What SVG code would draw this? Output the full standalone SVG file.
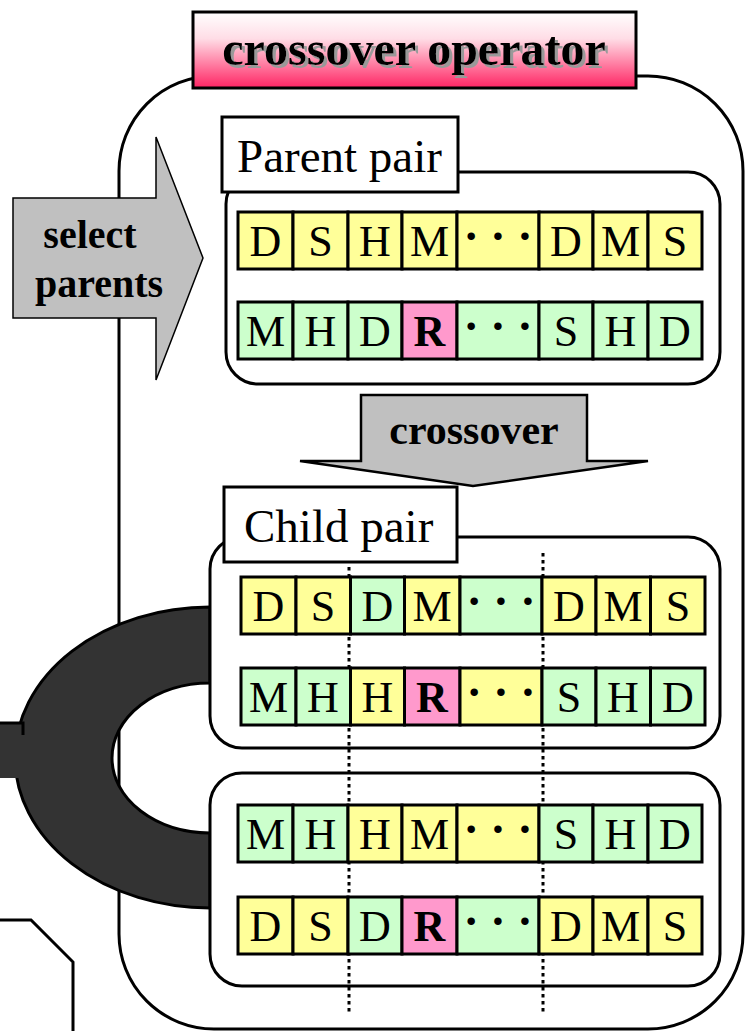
<svg xmlns="http://www.w3.org/2000/svg" width="750" height="1031" viewBox="0 0 750 1031">
<style>
.y{fill:#ffff99;stroke:#000;stroke-width:3}
.g{fill:#ccffcc;stroke:#000;stroke-width:3}
.p{fill:#ff99cc;stroke:#000;stroke-width:3}
.c{font-family:"Liberation Serif","Times New Roman",serif;font-size:44px;text-anchor:middle;fill:#000}
.b{font-weight:bold}
.d{font-family:"Liberation Serif","Times New Roman",serif;font-size:46px;font-weight:bold;text-anchor:middle;fill:#000}
.grp{fill:#fff;stroke:#000;stroke-width:3}
.lbl{fill:#fff;stroke:#000;stroke-width:3}
.lt{font-family:"Liberation Serif","Times New Roman",serif;font-size:47px;fill:#000}
.bt{font-family:"Liberation Serif","Times New Roman",serif;font-size:40px;font-weight:bold;text-anchor:middle;fill:#000}
.dot{fill:none;stroke:#000;stroke-width:3;stroke-dasharray:3.5 3.5}
</style>
<defs>
<linearGradient id="pk" x1="0" y1="0" x2="0" y2="1">
<stop offset="0" stop-color="#ffffff"/>
<stop offset="0.35" stop-color="#ffdde6"/>
<stop offset="1" stop-color="#ff2463"/>
</linearGradient>
<filter id="sh" x="-5%" y="-20%" width="110%" height="140%">
<feOffset in="SourceAlpha" dx="3" dy="3" result="o"/>
<feFlood flood-color="#999999"/>
<feComposite in2="o" operator="in" result="s"/>
<feMerge><feMergeNode in="s"/><feMergeNode in="SourceGraphic"/></feMerge>
</filter>
</defs>

<g id="outer">
<rect x="119" y="76" width="624" height="953" rx="95" ry="95" fill="#fff" stroke="#000" stroke-width="3"/>
</g>

<g id="title">
<rect x="193" y="12" width="443" height="76" fill="url(#pk)" stroke="#000" stroke-width="3"/>
<text x="414" y="65" class="bt" style="font-size:48px" filter="url(#sh)">crossover operator</text>
</g>

<g id="select-parents">
<polygon points="13,198 156,198 156,137 203,258 156,380 156,318 13,318" fill="#c0c0c0" stroke="#000" stroke-width="1.5"/>
<text x="90" y="248" class="bt">select</text>
<text x="99" y="297" class="bt">parents</text>
</g>

<g id="parent-pair">
<rect class="grp" x="226" y="172" width="494" height="212" rx="32" ry="32"/>
<rect class="lbl" x="222" y="117" width="236" height="75"/>
<text x="237" y="172" class="lt">Parent pair</text>
<g id="parent1">
<rect class="y" x="238" y="212" width="55" height="57"/>
<rect class="y" x="293" y="212" width="55" height="57"/>
<rect class="y" x="348" y="212" width="54" height="57"/>
<rect class="y" x="402" y="212" width="55" height="57"/>
<rect class="y" x="457" y="212" width="82" height="57"/>
<rect class="y" x="539" y="212" width="54" height="57"/>
<rect class="y" x="593" y="212" width="55" height="57"/>
<rect class="y" x="648" y="212" width="54" height="57"/>
<text class="c" x="265.5" y="256">D</text>
<text class="c" x="320.5" y="256">S</text>
<text class="c" x="375" y="256">H</text>
<text class="c" x="429.5" y="256">M</text>
<text class="d" x="498" y="252">· · ·</text>
<text class="c" x="566" y="256">D</text>
<text class="c" x="620.5" y="256">M</text>
<text class="c" x="675" y="256">S</text>
</g>
<g id="parent2">
<rect class="g" x="238" y="302" width="55" height="57"/>
<rect class="g" x="293" y="302" width="55" height="57"/>
<rect class="g" x="348" y="302" width="54" height="57"/>
<rect class="p" x="402" y="302" width="55" height="57"/>
<rect class="g" x="457" y="302" width="82" height="57"/>
<rect class="g" x="539" y="302" width="54" height="57"/>
<rect class="g" x="593" y="302" width="55" height="57"/>
<rect class="g" x="648" y="302" width="54" height="57"/>
<text class="c" x="265.5" y="346">M</text>
<text class="c" x="320.5" y="346">H</text>
<text class="c" x="375" y="346">D</text>
<text class="c b" x="429.5" y="346">R</text>
<text class="d" x="498" y="342">· · ·</text>
<text class="c" x="566" y="346">S</text>
<text class="c" x="620.5" y="346">H</text>
<text class="c" x="675" y="346">D</text>
</g>
</g>

<g id="crossover-arrow">
<polygon points="361,395 587,395 587,461 648,461 473,486 300,461 361,461" fill="#c0c0c0" stroke="#000" stroke-width="2.5" stroke-linejoin="miter"/>
<text x="474" y="444" class="bt" style="font-size:42px">crossover</text>
</g>

<g id="connectors">
<path d="M210,607 A195,150.5 0 0 0 210,908 L210,833 A98,75 0 0 1 210,683 Z" fill="#333" stroke="#000" stroke-width="3"/>
<rect x="0" y="723" width="23" height="55" fill="#333"/>
<path d="M0,723 H23 V735" fill="none" stroke="#000" stroke-width="3"/>
</g>

<g id="child-pair-frame">
<rect class="grp" x="210" y="537" width="510" height="211" rx="32" ry="32"/>
<rect class="lbl" x="224" y="487" width="233" height="75"/>
<text x="244" y="542" class="lt">Child pair</text>
</g>

<g id="child-pair-2-frame">
<rect class="grp" x="210" y="773" width="510" height="213" rx="32" ry="32"/>
</g>

<g id="cut-lines">
<line class="dot" x1="349" y1="567" x2="349" y2="1012"/>
<line class="dot" x1="543" y1="553" x2="543" y2="1012"/>
</g>

<g id="child-pair">
<g id="child1">
<rect class="y" x="241" y="577" width="55" height="57"/>
<rect class="y" x="296" y="577" width="54.5" height="57"/>
<rect class="g" x="350.5" y="577" width="54" height="57"/>
<rect class="y" x="404.5" y="577" width="55.5" height="57"/>
<rect class="g" x="460" y="577" width="82" height="57"/>
<rect class="y" x="542" y="577" width="54" height="57"/>
<rect class="y" x="596" y="577" width="54.5" height="57"/>
<rect class="y" x="650.5" y="577" width="54.5" height="57"/>
<text class="c" x="268.5" y="621">D</text>
<text class="c" x="323" y="621">S</text>
<text class="c" x="377.5" y="621">D</text>
<text class="c" x="432" y="621">M</text>
<text class="d" x="501" y="617">· · ·</text>
<text class="c" x="569" y="621">D</text>
<text class="c" x="623" y="621">M</text>
<text class="c" x="678" y="621">S</text>
</g>
<g id="child2">
<rect class="g" x="241" y="668" width="55" height="57"/>
<rect class="g" x="296" y="668" width="54.5" height="57"/>
<rect class="y" x="350.5" y="668" width="54" height="57"/>
<rect class="p" x="404.5" y="668" width="55.5" height="57"/>
<rect class="y" x="460" y="668" width="82" height="57"/>
<rect class="g" x="542" y="668" width="54" height="57"/>
<rect class="g" x="596" y="668" width="54.5" height="57"/>
<rect class="g" x="650.5" y="668" width="54.5" height="57"/>
<text class="c" x="268.5" y="712">M</text>
<text class="c" x="323" y="712">H</text>
<text class="c" x="377.5" y="712">H</text>
<text class="c b" x="432" y="712">R</text>
<text class="d" x="501" y="708">· · ·</text>
<text class="c" x="569" y="712">S</text>
<text class="c" x="623" y="712">H</text>
<text class="c" x="678" y="712">D</text>
</g>
</g>

<g id="child-pair-2">
<g id="child3">
<rect class="g" x="238" y="805" width="55" height="57"/>
<rect class="g" x="293" y="805" width="55" height="57"/>
<rect class="y" x="348" y="805" width="54" height="57"/>
<rect class="y" x="402" y="805" width="55" height="57"/>
<rect class="y" x="457" y="805" width="82" height="57"/>
<rect class="g" x="539" y="805" width="54" height="57"/>
<rect class="g" x="593" y="805" width="55" height="57"/>
<rect class="g" x="648" y="805" width="54" height="57"/>
<text class="c" x="265.5" y="849">M</text>
<text class="c" x="320.5" y="849">H</text>
<text class="c" x="375" y="849">H</text>
<text class="c" x="429.5" y="849">M</text>
<text class="d" x="498" y="845">· · ·</text>
<text class="c" x="566" y="849">S</text>
<text class="c" x="620.5" y="849">H</text>
<text class="c" x="675" y="849">D</text>
</g>
<g id="child4">
<rect class="y" x="238" y="897" width="55" height="57"/>
<rect class="y" x="293" y="897" width="55" height="57"/>
<rect class="g" x="348" y="897" width="54" height="57"/>
<rect class="p" x="402" y="897" width="55" height="57"/>
<rect class="g" x="457" y="897" width="82" height="57"/>
<rect class="y" x="539" y="897" width="54" height="57"/>
<rect class="y" x="593" y="897" width="55" height="57"/>
<rect class="y" x="648" y="897" width="54" height="57"/>
<text class="c" x="265.5" y="941">D</text>
<text class="c" x="320.5" y="941">S</text>
<text class="c" x="375" y="941">D</text>
<text class="c b" x="429.5" y="941">R</text>
<text class="d" x="498" y="937">· · ·</text>
<text class="c" x="566" y="941">D</text>
<text class="c" x="620.5" y="941">M</text>
<text class="c" x="675" y="941">S</text>
</g>
</g>

<g id="side-box">
<path d="M0,920 H31 L73,962 V1031" fill="none" stroke="#000" stroke-width="3"/>
</g>
</svg>
